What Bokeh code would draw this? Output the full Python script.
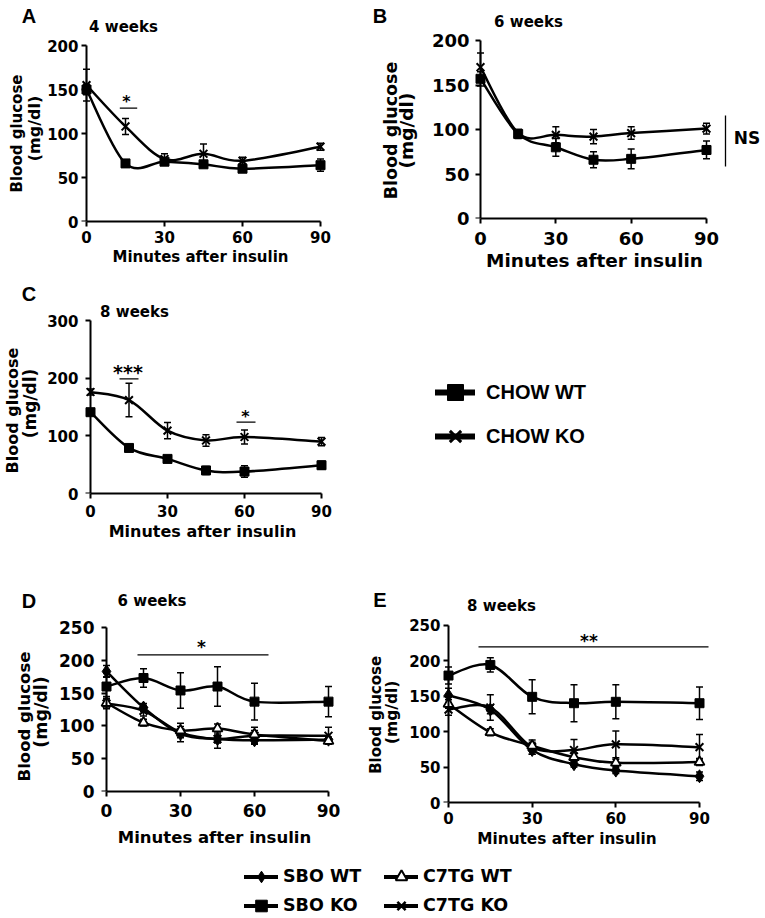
import math
import numpy as np
from bokeh.plotting import figure
from bokeh.models import (Range1d, Label, Whisker, ColumnDataSource, TeeHead,
                          Legend, LegendItem, FixedTicker, LinearAxis)
from bokeh.layouts import column, row
from bokeh.embed import file_html
from bokeh.resources import INLINE

# ---------------- data ----------------
minutes = [0, 15, 30, 45, 60, 90]
x_ticks = [0, 30, 60, 90]

# A: 4 weeks (chow)
a_wt = [150, 66, 68, 65, 60, 64]
a_wt_err = [6, 3, 4, 4, 3, 7]
a_ko = [155, 108, 71, 77, 69, 85]
a_ko_err = [18, 9, 6, 11, 4, 4]

# B: 6 weeks (chow)
b_wt = [157, 95, 80, 66, 67, 77]
b_wt_err = [8, 5, 10, 9, 11, 10]
b_ko = [170, 96, 94, 92, 96, 101]
b_ko_err = [16, 4, 9, 8, 7, 6]

# C: 8 weeks (chow)
c_wt = [141, 79, 60, 40, 38, 49]
c_wt_err = [5, 4, 3, 7, 10, 7]
c_ko = [176, 162, 109, 92, 98, 90]
c_ko_err = [5, 29, 14, 10, 12, 7]

# D: 6 weeks
d_sbo_wt = [183, 128, 88, 80, 78, 79]
d_sbo_wt_err = [9, 6, 6, 6, 5, 4]
d_sbo_ko = [160, 173, 154, 160, 137, 137]
d_sbo_ko_err = [15, 14, 27, 30, 28, 23]
d_c7_wt = [135, 105, 93, 96, 87, 77]
d_c7_wt_err = [6, 5, 6, 7, 6, 4]
d_c7_ko = [134, 123, 90, 80, 85, 85]
d_c7_ko_err = [8, 8, 14, 14, 13, 13]

# E: 8 weeks
e_sbo_wt = [151, 131, 74, 54, 45, 37]
e_sbo_wt_err = [10, 6, 6, 4, 4, 6]
e_sbo_ko = [179, 194, 149, 140, 142, 140]
e_sbo_ko_err = [12, 10, 24, 26, 24, 23]
e_c7_wt = [139, 99, 80, 64, 56, 57]
e_c7_wt_err = [6, 5, 5, 5, 5, 5]
e_c7_ko = [131, 134, 78, 74, 82, 78]
e_c7_ko_err = [8, 18, 10, 15, 19, 18]

FONT = "DejaVu Sans"
LETTER_FONT = "Liberation Sans"
XLABEL = "Minutes after insulin"


def smooth_segments(xs, ys, t=1.0 / 6.0):
    xs = [float(v) for v in xs]
    ys = [float(v) for v in ys]
    n = len(xs)
    d = dict(x0=[], y0=[], x1=[], y1=[], cx0=[], cy0=[], cx1=[], cy1=[])
    for i in range(n - 1):
        ip = max(i - 1, 0)
        inx = min(i + 2, n - 1)
        d["x0"].append(xs[i]); d["y0"].append(ys[i])
        d["x1"].append(xs[i + 1]); d["y1"].append(ys[i + 1])
        d["cx0"].append(xs[i] + (xs[i + 1] - xs[ip]) * t)
        d["cy0"].append(ys[i] + (ys[i + 1] - ys[ip]) * t)
        d["cx1"].append(xs[i + 1] - (xs[inx] - xs[i]) * t)
        d["cy1"].append(ys[i + 1] - (ys[inx] - ys[i]) * t)
    return d


def base_fig(w, h, xr, yr, mbl, mbr, mbt, mbb, axes=True):
    kw = dict(width=w, height=h, output_backend="svg", toolbar_location=None, tools="",
              x_range=xr, y_range=yr, min_border_left=mbl, min_border_right=mbr,
              min_border_top=mbt, min_border_bottom=mbb)
    if not axes:
        kw.update(x_axis_type=None, y_axis_type=None)
    p = figure(**kw)
    p.outline_line_color = None
    p.grid.visible = False
    p.background_fill_color = "white"
    p.border_fill_color = "white"
    return p


def make_side(ox, oy, w, h, mbb):
    # page-pixel coordinate space: x = page x, y = -page y
    return base_fig(w, h, Range1d(ox, ox + w), Range1d(-(oy + h - mbb), -oy),
                    0, 0, 0, mbb, axes=False)


def make_main(ox, oy, w, h, px0, px90, pytop, py0, ymax, ystep, tick_fs, xstand,
              ystand, xl_fs, als, pad_l, pad_r):
    ppu = (px90 - px0) / 90.0
    ppy = (py0 - pytop) / float(ymax)
    yt = list(range(0, ymax + 1, ystep))
    p = base_fig(w, h, Range1d(-pad_l / ppu, 90 + pad_r / ppu),
                 Range1d(0, (py0 - oy) / ppy),
                 px0 - pad_l - ox, ox + w - px90 - pad_r, 0, oy + h - py0)
    xa = p.xaxis[0]
    xa.axis_line_width = 2
    xa.axis_line_color = "black"
    xa.major_tick_line_width = 2
    xa.major_tick_line_color = "black"
    xa.major_tick_out = 5
    xa.major_tick_in = 0
    xa.minor_tick_line_color = None
    xa.ticker = FixedTicker(ticks=x_ticks)
    xa.bounds = (0, 90)
    xa.major_label_standoff = xstand
    xa.axis_label = XLABEL
    xa.axis_label_standoff = als
    xa.axis_label_text_font = FONT
    xa.axis_label_text_font_style = "bold"
    xa.axis_label_text_font_size = f"{xl_fs}px"
    xa.axis_label_text_color = "black"
    ya = p.yaxis[0]
    ya.axis_line_color = None
    ya.major_tick_line_color = None
    ya.major_tick_out = 0
    ya.major_tick_in = 0
    ya.minor_tick_line_color = None
    ya.ticker = FixedTicker(ticks=yt)
    ya.bounds = (0, ymax)
    ya.major_label_standoff = ystand
    for ax in (xa, ya):
        ax.major_label_text_font = FONT
        ax.major_label_text_font_style = "bold"
        ax.major_label_text_font_size = f"{tick_fs}px"
        ax.major_label_text_color = "black"
    ya2 = LinearAxis(fixed_location=0, bounds=(0, ymax), ticker=FixedTicker(ticks=yt),
                     axis_line_width=2, axis_line_color="black",
                     major_tick_line_width=2, major_tick_line_color="black",
                     major_tick_in=5, major_tick_out=0, minor_tick_line_color=None,
                     major_label_overrides={t: "" for t in yt}, major_label_standoff=0)
    p.add_layout(ya2, "right")

    def dx(X):
        return (X - px0) / ppu

    def dy(Y):
        return (py0 - Y) / ppy
    return p, dx, dy


def txt(p, x, y, text, size, font=FONT, angle=0.0, align="center", baseline="middle"):
    p.add_layout(Label(x=x, y=y, text=text, text_font=font,
                       text_font_size=f"{size}px", text_font_style="bold",
                       text_color="black", text_align=align, text_baseline=baseline,
                       angle=angle))


def draw_series(p, series):
    for ys, errs, mk in series:
        seg = ColumnDataSource(smooth_segments(minutes, ys))
        p.bezier(x0="x0", y0="y0", x1="x1", y1="y1", cx0="cx0", cy0="cy0",
                 cx1="cx1", cy1="cy1", source=seg, line_color="black",
                 line_width=2.5, line_cap="round")
    srcs = []
    for ys, errs, mk in series:
        src = ColumnDataSource(dict(x=minutes, y=ys,
                                    lo=[a - b for a, b in zip(ys, errs)],
                                    hi=[a + b for a, b in zip(ys, errs)]))
        srcs.append(src)
        p.add_layout(Whisker(base="x", upper="hi", lower="lo", source=src,
                             line_color="black", line_width=1.5,
                             upper_head=TeeHead(size=7, line_width=1.5, line_color="black"),
                             lower_head=TeeHead(size=7, line_width=1.5, line_color="black")))
    for (ys, errs, mk), src in zip(series, srcs):
        p.scatter("x", "y", source=src, line_color="black", **mk)


def sig_line(p, dx, dy, xa, xb, y):
    p.segment(x0=[dx(xa)], y0=[dy(y)], x1=[dx(xb)], y1=[dy(y)],
              line_color="black", line_width=1.3)


SQ = dict(marker="square", size=9, fill_color="black", line_width=1)
XM = dict(marker="x", size=11, line_width=2)
DI = dict(marker="diamond", size=13, fill_color="black", line_width=1)
TR = dict(marker="triangle", size=10, fill_color="white", line_width=1.8)
ROT = math.pi / 2

# ================= Row 1 =================
leftA = make_side(0, 0, 44, 275, 54)
txt(leftA, 28.5, -15, "A", 20, font=LETTER_FONT)
txt(leftA, 16.5, -133, "Blood glucose", 15, angle=ROT)
txt(leftA, 33.5, -128, "(mg/dl)", 16, angle=ROT)

pA, ax_, ay_ = make_main(44, 0, 326, 275, 86, 320, 45, 221, 200, 50, 15, 4, -6, 15, 2, 14, 8)
draw_series(pA, [(a_wt, a_wt_err, SQ), (a_ko, a_ko_err, XM)])
txt(pA, ax_(123), ay_(26.5), "4 weeks", 15)
txt(pA, ax_(126), ay_(100.5), "*", 16)
sig_line(pA, ax_, ay_, 119.3, 136.7, 107.7)

leftB = make_side(370, 0, 50, 275, 57)
txt(leftB, 379.5, -15, "B", 20, font=LETTER_FONT)
txt(leftB, 390, -130, "Blood glucose", 17.5, angle=ROT)
txt(leftB, 405.5, -130, "(mg/dl)", 18.5, angle=ROT)

pB, bx_, by_ = make_main(420, 0, 302, 275, 480, 706, 40, 218, 200, 50, 18, 8, 5, 18.5, 2, 6, 8)
draw_series(pB, [(b_wt, b_wt_err, SQ), (b_ko, b_ko_err, XM)])
txt(pB, bx_(528), by_(21), "6 weeks", 15)

sideB = make_side(722, 0, 43, 275, 57)
sideB.segment(x0=[725], y0=[-115], x1=[725], y1=[-166], line_color="black", line_width=1.3)
txt(sideB, 746.5, -137.5, "NS", 17)

# ================= Row 2 =================
leftC = make_side(0, 275, 44, 278, 60)
txt(leftC, 28.5, -293.5, "C", 20, font=LETTER_FONT)
txt(leftC, 12, -410, "Blood glucose", 16, angle=ROT)
txt(leftC, 29.5, -403, "(mg/dl)", 17, angle=ROT)

pC, cx_, cy_ = make_main(44, 275, 326, 278, 90, 321, 320, 493, 300, 100, 15, 6, -3, 16, 2, 15, 8)
draw_series(pC, [(c_wt, c_wt_err, SQ), (c_ko, c_ko_err, XM)])
txt(pC, cx_(134), cy_(311), "8 weeks", 15)
txt(pC, cx_(127.5), cy_(371), "***", 19)
sig_line(pC, cx_, cy_, 119, 138, 378.3)
txt(pC, cx_(245), cy_(415.5), "*", 16)
sig_line(pC, cx_, cy_, 236, 255, 421.7)

L1 = base_fig(395, 278, Range1d(0, 1), Range1d(0, 1), 0, 0, 0, 0, axes=False)
nan1 = np.array([np.nan])
r1l = L1.line(nan1, nan1, line_color="black", line_width=6, line_cap="round")
r1m = L1.scatter(nan1, nan1, marker="square", fill_color="black", line_color="black")
r2l = L1.line(nan1, nan1, line_color="black", line_width=6, line_cap="round")
r2m = L1.scatter(nan1, nan1, marker="x", line_color="black", line_width=3)
leg1 = Legend(items=[LegendItem(label="CHOW WT", renderers=[r1l, r1m]),
                     LegendItem(label="CHOW KO", renderers=[r2l, r2m])],
              location=(65, 96), orientation="vertical",
              glyph_width=40, glyph_height=42, spacing=2, padding=0, margin=0,
              label_standoff=11, label_text_font=LETTER_FONT,
              label_text_font_style="bold", label_text_font_size="20px",
              label_text_color="black",
              border_line_color=None, background_fill_alpha=0)
L1.add_layout(leg1)

# ================= Row 3 =================
leftD = make_side(0, 553, 53, 297, 59)
txt(leftD, 28.5, -600, "D", 20, font=LETTER_FONT)
txt(leftD, 23.5, -716, "Blood glucose", 16.5, angle=ROT)
txt(leftD, 40.5, -711.5, "(mg/dl)", 17.5, angle=ROT)

pD, dx_, dy_ = make_main(53, 553, 313, 297, 106, 328, 627, 791, 250, 50, 17, 7, -2, 16.5, 8, 14, 8)
draw_series(pD, [(d_sbo_ko, d_sbo_ko_err, SQ), (d_sbo_wt, d_sbo_wt_err, DI),
                 (d_c7_ko, d_c7_ko_err, XM), (d_c7_wt, d_c7_wt_err, TR)])
txt(pD, dx_(151.5), dy_(600), "6 weeks", 15)
txt(pD, dx_(201), dy_(646.5), "*", 17)
sig_line(pD, dx_, dy_, 137, 268, 654.3)

leftE = make_side(366, 553, 37, 297, 47)
txt(leftE, 379.5, -600, "E", 20, font=LETTER_FONT)
txt(leftE, 375, -715, "Blood glucose", 15, angle=ROT)
txt(leftE, 391.5, -712.5, "(mg/dl)", 15.5, angle=ROT)

pE, ex_, ey_ = make_main(403, 553, 362, 297, 448, 699, 625, 803, 250, 50, 15, 4, -18, 15.3, 3, 26, 12)
draw_series(pE, [(e_sbo_ko, e_sbo_ko_err, SQ), (e_sbo_wt, e_sbo_wt_err, DI),
                 (e_c7_ko, e_c7_ko_err, XM), (e_c7_wt, e_c7_wt_err, TR)])
txt(pE, ex_(501), ey_(606), "8 weeks", 15)
txt(pE, ex_(588.5), ey_(640.5), "**", 17)
sig_line(pE, ex_, ey_, 478, 708, 646.7)

# ================= Legend 2 =================
L2 = base_fig(765, 68, Range1d(0, 1), Range1d(0, 1), 0, 0, 0, 0, axes=False)


def leg_pair(marker_kw):
    rl = L2.line(nan1, nan1, line_color="black", line_width=4, line_cap="round")
    rm = L2.scatter(nan1, nan1, line_color="black", **marker_kw)
    return [rl, rm]


leg_common = dict(orientation="vertical", glyph_width=34, glyph_height=29, spacing=0,
                  padding=0, margin=0, label_standoff=5, label_text_font=FONT,
                  label_text_font_style="bold", label_text_font_size="17.5px",
                  label_text_color="black",
                  border_line_color=None, background_fill_alpha=0)
leg2a = Legend(items=[LegendItem(label="SBO WT", renderers=leg_pair(dict(marker="diamond", fill_color="black"))),
                      LegendItem(label="SBO KO", renderers=leg_pair(dict(marker="square", fill_color="black")))],
               location=(244, -1.5), **leg_common)
leg2b = Legend(items=[LegendItem(label="C7TG WT", renderers=leg_pair(dict(marker="triangle", fill_color="white", line_width=2))),
                      LegendItem(label="C7TG KO", renderers=leg_pair(dict(marker="x", line_width=2.5)))],
               location=(384, -1.5), **leg_common)
L2.add_layout(leg2a)
L2.add_layout(leg2b)

row1 = row(row(leftA, pA), row(leftB, pB, sideB))
row2 = row(row(leftC, pC), column(L1))
row3 = row(row(leftD, pD), row(leftE, pE))
layout = column(row1, row2, row3, L2)
open("out.html", "w").write(file_html(layout, INLINE))
